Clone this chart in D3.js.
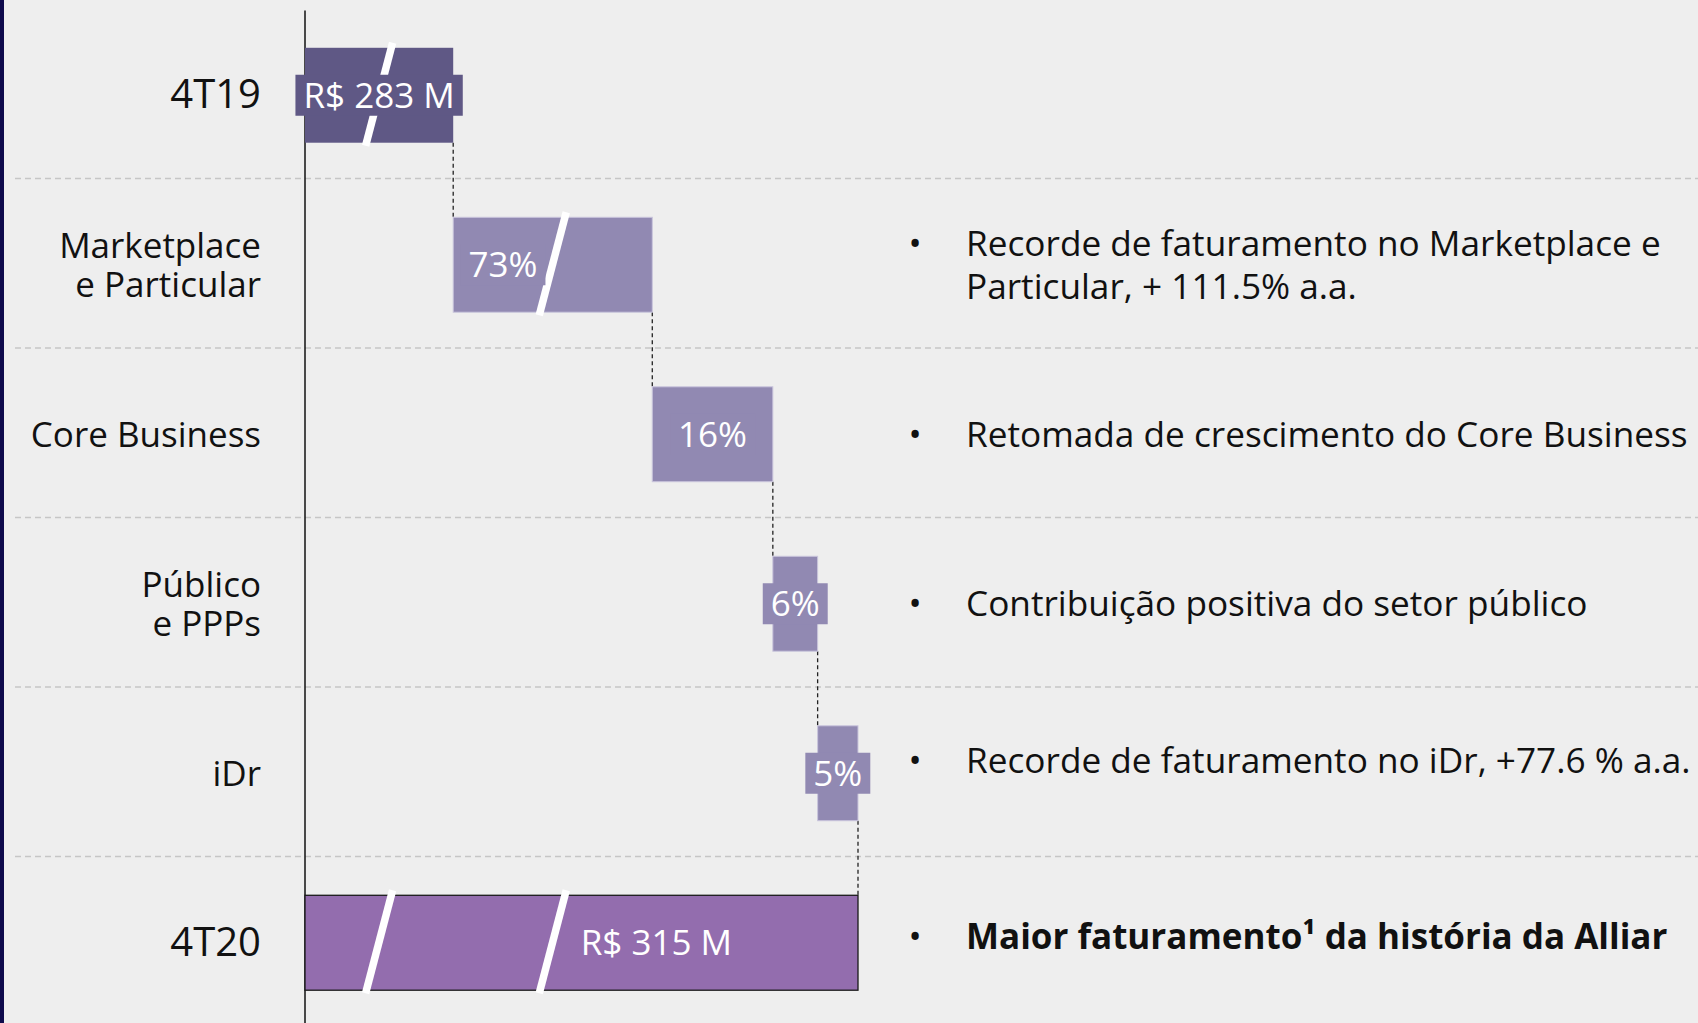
<!DOCTYPE html>
<html>
<head>
<meta charset="utf-8">
<script src="https://cdn.jsdelivr.net/npm/d3@7"></script>
<style>
  body { margin: 0; background: #eeeeee; }
  svg { display: block; font-family: "Open Sans", "Noto Sans", sans-serif; }
</style>
</head>
<body>
<svg id="chart"></svg>
<script>
// data
var categories = ["4T19", "Marketplace e Particular", "Core Business", "Público e PPPs", "iDr", "4T20"];
var categoryLines = [["4T19"], ["Marketplace", "e Particular"], ["Core Business"], ["Público", "e PPPs"], ["iDr"], ["4T20"]];
var startValue = 283;   // R$ M, 4T19
var endValue = 315;     // R$ M, 4T20
var shares = [73, 16, 6, 5];   // % of the growth
var barLabels = ["R$ 283 M", "73%", "16%", "6%", "5%", "R$ 315 M"];
var notes = [
  [],
  ["Recorde de faturamento no Marketplace e", "Particular, + 111.5% a.a."],
  ["Retomada de crescimento do Core Business"],
  ["Contribuição positiva do setor público"],
  ["Recorde de faturamento no iDr, +77.6 % a.a."],
  ["Maior faturamento¹ da história da Alliar"]
];

var width = 1698, height = 1023;
var plotLeft = 305, plotWidth = 553;

var svg = d3.select("#chart").attr("width", width).attr("height", height);
svg.append("rect").attr("width", width).attr("height", height).attr("fill", "#eeeeee");
svg.append("rect").attr("width", 4).attr("height", height).attr("fill", "#0e0a4c");

// build waterfall steps
var growth = endValue - startValue;
var steps = [{cat: categories[0], x0: 0, x1: startValue, kind: "first"}];
var acc = startValue;
shares.forEach(function(s, i) {
  var v = growth * s / 100;
  steps.push({cat: categories[i + 1], x0: acc, x1: acc + v, kind: "step"});
  acc += v;
});
steps.push({cat: categories[5], x0: 0, x1: endValue, kind: "last"});
steps.forEach(function(d, i) { d.label = barLabels[i]; d.lines = categoryLines[i]; d.note = notes[i]; });

// broken axis: the slide gives every step its own schematic width
var xDomain = [0].concat(steps.slice(0, 5).map(function(d) { return d.x1; }));
var breakFrac = [0, 0.268, 0.628, 0.846, 0.927, 1];
var x = d3.scaleLinear().domain(xDomain).range(breakFrac.map(function(f) { return plotLeft + f * plotWidth; }));

var y = d3.scaleBand().domain(categories).range([10.5, 1027.5]).paddingInner(0.44).paddingOuter(0.22);
var bw = y.bandwidth(), step = y.step();

var colors = {first: "#5f5885", step: "#9189b2", last: "#936dae"};

// dashed row separators
svg.append("g").selectAll("line")
  .data(categories.slice(1))
  .enter().append("line")
  .attr("x1", 15).attr("x2", width)
  .attr("y1", function(d) { return y(d) - step * 0.22 - 1.5; })
  .attr("y2", function(d) { return y(d) - step * 0.22 - 1.5; })
  .attr("stroke", "#c6c6c6").attr("stroke-width", 1.5).attr("stroke-dasharray", "6,4");

// axis line
svg.append("line")
  .attr("x1", plotLeft).attr("x2", plotLeft)
  .attr("y1", y.range()[0]).attr("y2", height)
  .attr("stroke", "#111").attr("stroke-width", 1.5);

// connectors
svg.append("g").selectAll("line")
  .data(steps.slice(0, 5))
  .enter().append("line")
  .attr("x1", function(d) { return x(d.x1); })
  .attr("x2", function(d) { return x(d.x1); })
  .attr("y1", function(d) { return y(d.cat) + bw; })
  .attr("y2", function(d, i) { return y(steps[i + 1].cat); })
  .attr("stroke", "#222").attr("stroke-width", 1.3).attr("stroke-dasharray", "4,3");

// bars
svg.append("g").selectAll("rect")
  .data(steps)
  .enter().append("rect")
  .attr("x", function(d) { return x(d.x0); })
  .attr("y", function(d) { return y(d.cat); })
  .attr("width", function(d) { return x(d.x1) - x(d.x0); })
  .attr("height", bw)
  .attr("fill", function(d) { return colors[d.kind]; })
  .attr("stroke", function(d) { return d.kind == "last" ? "#1a1a1a" : d.kind == "step" ? "#c9c5dc" : "none"; })
  .attr("stroke-width", function(d) { return d.kind == "last" ? 1.3 : 1; });

// break marks: middle of the 4T19 bar and of the marketplace bar
var s1 = (x(steps[0].x0) + x(steps[0].x1)) / 2;
var s2 = (x(steps[1].x0) + x(steps[1].x1)) / 2;
var slashes = [{cat: categories[0], sx: s1}, {cat: categories[1], sx: s2}, {cat: categories[5], sx: s1}, {cat: categories[5], sx: s2}];
svg.append("g").selectAll("line")
  .data(slashes)
  .enter().append("line")
  .attr("x1", function(d) { return d.sx + 13.5; })
  .attr("y1", function(d) { return y(d.cat) - 5; })
  .attr("x2", function(d) { return d.sx - 13.5; })
  .attr("y2", function(d) { return y(d.cat) + bw + 3; })
  .attr("stroke", "#fff").attr("stroke-width", 7.5);

// value labels
var labelG = svg.append("g").selectAll("g")
  .data(steps)
  .enter().append("g");

labelG.each(function(d, i) {
  var g = d3.select(this);
  var cy = y(d.cat) + bw / 2;
  var t = g.append("text")
    .attr("y", cy).attr("dy", "0.36em")
    .attr("fill", "#fff").attr("font-size", 35)
    .text(d.label);
  if (d.kind == "last") {
    t.attr("x", s2 + 28).attr("text-anchor", "start");
    return;
  }
  var cx = i == 1 ? (x(d.x0) + s2) / 2 : (x(d.x0) + x(d.x1)) / 2;
  t.attr("x", cx).attr("text-anchor", "middle");
  var bb = t.node().getBBox();
  g.insert("rect", "text")
    .attr("x", bb.x - 8).attr("width", bb.width + 16)
    .attr("y", cy - 20.5).attr("height", 41)
    .attr("fill", colors[d.kind]);
});

// category labels (one text per line)
svg.append("g").selectAll("g")
  .data(steps)
  .enter().append("g")
  .each(function(d) {
    var cy = y(d.cat) + bw / 2;
    var n = d.lines.length;
    d3.select(this).selectAll("text")
      .data(d.lines)
      .enter().append("text")
      .attr("text-anchor", "end")
      .attr("fill", "#111")
      .attr("font-size", d.kind == "step" ? 35 : 40)
      .attr("x", 261)
      .attr("y", function(l, j) { return cy + (j - (n - 1) / 2) * 39 + 13; })
      .text(function(l) { return l; });
  });

// notes on the right
var noteShift = [0, 0, 0, 0, -13, -6];
svg.append("g").selectAll("g")
  .data(steps)
  .enter().append("g")
  .each(function(d, i) {
    if (!d.note.length) return;
    var g = d3.select(this);
    var cy = y(d.cat) + bw / 2 + noteShift[i];
    var n = d.note.length;
    var bold = d.kind == "last";
    g.append("text")
      .attr("x", 915).attr("y", cy - (n - 1) / 2 * 43).attr("dy", "0.36em")
      .attr("text-anchor", "middle").attr("font-size", 35).attr("fill", "#111")
      .text("•");
    d.note.forEach(function(line, j) {
      g.append("text")
        .attr("x", 966).attr("y", cy + (j - (n - 1) / 2) * 43).attr("dy", "0.36em")
        .attr("font-size", bold ? 35 : 35.2).attr("fill", "#111")
        .attr("font-weight", bold ? 700 : 400)
        .text(line);
    });
  });
</script>
</body>
</html>
